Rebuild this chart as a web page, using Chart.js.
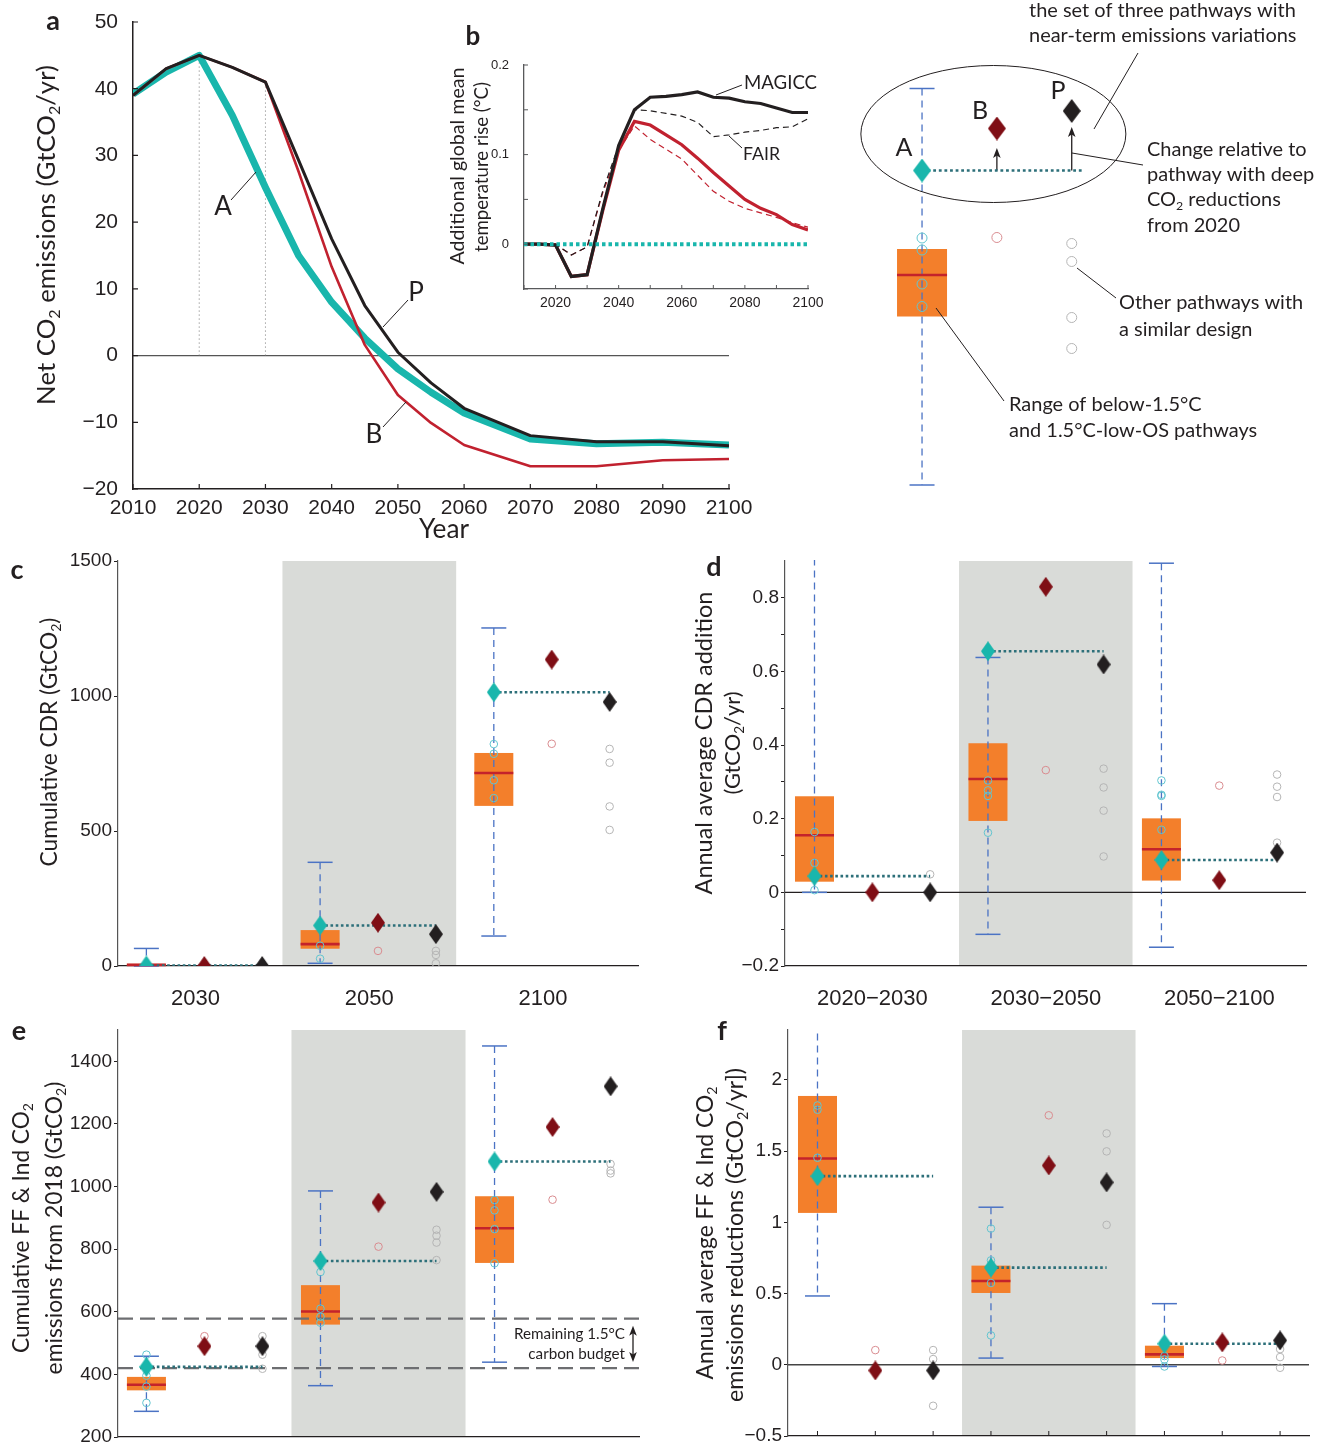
<!DOCTYPE html>
<html><head><meta charset="utf-8"><title>CO2 pathways</title>
<script src="https://cdn.jsdelivr.net/npm/chart.js@4.4.1/dist/chart.umd.min.js"></script>
<style>
html,body{margin:0;padding:0;background:#fff;}
body{width:1331px;height:1445px;position:relative;overflow:hidden;}
canvas{position:absolute;display:block;}
</style></head>
<body>
<canvas id="cvA"></canvas><canvas id="cvB"></canvas><canvas id="cvS"></canvas>
<canvas id="cvC"></canvas><canvas id="cvD"></canvas><canvas id="cvE"></canvas><canvas id="cvF"></canvas>
<script>
// ================= DATA =================
// Panel a: net CO2 emissions (GtCO2/yr)
const yearsA = [2010,2015,2020,2025,2030,2035,2040,2045,2050,2055,2060,2070,2080,2090,2100];
const emissionsA = [39.2,42.5,45.0,36.0,25.2,15.0,8.0,2.6,-2.0,-5.5,-8.6,-12.5,-13.2,-13.0,-13.4];
const emissionsB = [39.0,43.0,45.0,43.2,41.0,27.6,13.3,1.6,-5.9,-10.1,-13.4,-16.6,-16.6,-15.7,-15.5];
const emissionsP = [39.0,43.0,45.0,43.2,41.0,29.3,17.5,7.5,0.5,-4.1,-7.9,-12.0,-12.9,-12.9,-13.5];
const yTicksA = [-20,-10,0,10,20,30,40,50];
const xTicksA = [2010,2020,2030,2040,2050,2060,2070,2080,2090,2100];
const markerYearsA = [2020,2030];

// Panel b: additional warming relative to A (°C)
const yearsB = [2010,2015,2020,2025,2030,2035,2040,2045,2050,2055,2060,2065,2070,2075,2080,2085,2090,2095,2100];
const magiccP = [0,0,-0.001,-0.036,-0.034,0.040,0.110,0.150,0.164,0.165,0.167,0.170,0.164,0.163,0.159,0.157,0.152,0.147,0.147];
const magiccB = [0,0,-0.001,-0.036,-0.034,0.038,0.105,0.137,0.133,0.122,0.111,0.096,0.080,0.065,0.050,0.040,0.033,0.022,0.016];
const fairP   = [0,0,0,-0.012,-0.003,0.060,0.110,0.150,0.149,0.146,0.143,0.136,0.120,0.122,0.125,0.127,0.130,0.131,0.140];
const fairB   = [0,0,0,-0.012,-0.003,0.058,0.105,0.132,0.117,0.106,0.095,0.077,0.059,0.048,0.040,0.035,0.030,0.024,0.019];
const refA_B  = [0,0,0,0,0,0,0,0,0,0,0,0,0,0,0,0,0,0,0];
const yTicksB = [-0.05,0,0.05,0.1,0.15,0.2];
const yLabelsB = ['','0','','0.1','','0.2'];
const xTicksB = [2010,2020,2030,2040,2050,2060,2070,2080,2090,2100];
const xLabelsB = ['','2020','','2040','','2060','','2080','','2100'];

// Schematic (arbitrary units)
const schemLabels = ['A','B','P'];
const schemDiamonds = [65.9,74.3,77.8];
const schemBox = [3.0,36.7,45.0,50.2,82.3];      // lo, q1, median, q3, hi
const schemAcircles = [52.4,50.0,43.2,38.7];
const schemBcircles = [52.5];
const schemPcircles = [51.3,47.7,36.5,30.3];
const schemArrowTips = [70.4,74.6];

// Panel c: cumulative CDR (GtCO2)
const cGroups = ['2030','2050','2100'];
const cBox = [[0,0,4,8,65],[10,64,81,133,384],[111,593,715,789,1252]];
const cA = [2,150,1014], cB = [0,160,1135], cP = [0,118,978];
const cAcirc = [[],[75,27],[822,786,688,622]];
const cBcirc = [[],[56],[823]];
const cPcirc = [[],[56,41,10],[804,753,591,504]];
const cYTicks = [0,500,1000,1500];

// Panel d: annual average CDR addition (GtCO2/yr)
const dGroups = ['2020\u22122030','2030\u22122050','2050\u22122100'];
const dBox = [[0.0,0.029,0.155,0.261,1.2],[-0.114,0.194,0.308,0.405,0.638],[-0.149,0.032,0.117,0.201,0.894]];
const dA = [0.044,0.655,0.088], dB = [0.0,0.83,0.033], dP = [0.0,0.619,0.108];
const dAcirc = [[0.164,0.08,0.006],[0.304,0.277,0.262,0.162],[0.304,0.265,0.262,0.17]];
const dBcirc = [[],[0.332],[0.29]];
const dPcirc = [[0.049],[0.336,0.285,0.222,0.0975],[0.32,0.287,0.259,0.135]];
const dYTicks = [-0.2,-0.1,0,0.1,0.2,0.3,0.4,0.5,0.6,0.7,0.8];

// Panel e: cumulative FF&Ind CO2 from 2018 (GtCO2)
const eBox = [[282,349,367,392,458],[364,559,601,685,986],[439,756,867,969,1449]];
const eA = [424,762,1080], eB = [490,949,1190], eP = [490,983,1320];
const eAcirc = [[463,396,361,309],[727,610,584,565],[957,924,864,755]];
const eBcirc = [[522],[808],[958]];
const ePcirc = [[522,463,418],[862,843,821,765],[1072,1051,1042]];
const eBudget = [420,578];
const eYTicks = [200,400,600,800,1000,1200,1400];

// Panel f: annual average FF&Ind CO2 reductions (GtCO2/yr)
const fBox = [[0.483,1.066,1.448,1.887,3.0],[0.047,0.504,0.588,0.696,1.106],[-0.012,0.047,0.073,0.134,0.429]];
const fA = [1.324,0.682,0.148], fB = [-0.04,1.399,0.157], fP = [-0.04,1.28,0.171];
const fAcirc = [[1.82,1.79,1.453],[0.956,0.733,0.574,0.206],[0.061,0.0375,-0.012]];
const fBcirc = [[0.103],[1.751],[0.03]];
const fPcirc = [[0.103,0.04,-0.288],[1.624,1.498,0.982],[0.11,0.054,-0.021]];
const fYTicks = [-0.5,0,0.5,1,1.5,2];
const slotTicks = [0,1,2,3,4,5,6,7,8];

// ================= STYLE =================
const TEAL='#19b6ac', TEAL_DOT='#2c6f79', TEAL_C='#62c5d0', RED='#c1212f', DRED='#7f0e15',
      BLK='#231f20', ORANGE='#f37f2b', MED='#c4232b', WHISK='#4b73c4', BAND='#d9dbd8',
      PINK='#d98c90', GREYC='#b5b5b5', GREYLINE='#6d6e71';
const FONT_T = 'Lato, "Open Sans", "DejaVu Sans", sans-serif';
const FONT_N = '"Liberation Sans", Arial, sans-serif';
Chart.defaults.font.family = FONT_N;
Chart.defaults.color = BLK;

function minus(v){ return String(v).replace('-', '\u2212'); }
function pts(xs, ys){ return xs.map((x,i)=>({x:x, y:ys[i]})); }
function diamondImg(color, w, h){
  const c=document.createElement('canvas'); c.width=w; c.height=h;
  const g=c.getContext('2d'); g.fillStyle=color; g.beginPath();
  g.moveTo(w/2,0); g.lineTo(w,h/2); g.lineTo(w/2,h); g.lineTo(0,h/2); g.closePath(); g.fill();
  return c;
}
const DIA_A=diamondImg(TEAL,14,20), DIA_B=diamondImg(DRED,14,20), DIA_P=diamondImg(BLK,14,20);
const SDIA_A=diamondImg(TEAL,18,24), SDIA_B=diamondImg(DRED,18,24), SDIA_P=diamondImg(BLK,18,24);

// rich text with {subscript}
function parseRich(s){ const out=[]; const re=/\{([^}]*)\}/g; let last=0,m;
  while((m=re.exec(s))){ if(m.index>last) out.push([s.slice(last,m.index),0]); out.push([m[1],1]); last=re.lastIndex; }
  if(last<s.length) out.push([s.slice(last),0]); return out; }
function richW(ctx, parts, size, fam, weight){ let w=0; for(const [t,sub] of parts){ ctx.font=`${weight||''} ${sub?size*0.62:size}px ${fam}`; w+=ctx.measureText(t).width; } return w; }
function drawRich(ctx, s, cx, cy, o){
  o=o||{}; const fam=o.fam||FONT_T; const weight=o.weight||''; const parts=parseRich(s);
  let size=o.size||20;
  if(o.fit){ size = 100*o.fit/richW(ctx,parts,100,fam,weight); }
  const w=richW(ctx,parts,size,fam,weight);
  ctx.save(); ctx.translate(cx,cy); ctx.rotate(o.rot||0); ctx.fillStyle=o.color||BLK; ctx.textBaseline='middle'; ctx.textAlign='left';
  let x = (o.align==='left')?0:(o.align==='right')?-w:-w/2;
  for(const [t,sub] of parts){ const sz=sub?size*0.62:size; ctx.font=`${weight} ${sz}px ${fam}`; ctx.fillText(t,x,sub?size*0.3:0); x+=ctx.measureText(t).width; }
  ctx.restore(); return size;
}
function line(ctx, x1,y1,x2,y2, col, lw, dash){ ctx.save(); ctx.strokeStyle=col; ctx.lineWidth=lw; ctx.setLineDash(dash||[]); ctx.beginPath(); ctx.moveTo(x1,y1); ctx.lineTo(x2,y2); ctx.stroke(); ctx.restore(); }
function arrowHead(ctx, x, y, dir, col){ // dir: -1 up, +1 down
  ctx.save(); ctx.fillStyle=col; ctx.beginPath(); ctx.moveTo(x,y); ctx.lineTo(x-3.8,y-dir*10); ctx.lineTo(x,y-dir*7.5); ctx.lineTo(x+3.8,y-dir*10); ctx.closePath(); ctx.fill(); ctx.restore(); }
function pageCtx(chart){ const ctx=chart.ctx; ctx.save(); ctx.translate(-parseFloat(chart.canvas.style.left), -parseFloat(chart.canvas.style.top)); return ctx; }

function mk(id, area, pad, config){
  const cv=document.getElementById(id);
  const x=area.L-pad.l, y=area.T-pad.t, w=area.R-area.L+pad.l+pad.r, h=area.B-area.T+pad.t+pad.b;
  cv.width=w; cv.height=h; cv.style.left=x+'px'; cv.style.top=y+'px'; cv.style.width=w+'px'; cv.style.height=h+'px';
  const o=config.options;
  o.responsive=false; o.animation=false; o.devicePixelRatio=1; o.events=[];
  o.layout={autoPadding:false, padding:{top:pad.t,right:pad.r,left:0,bottom:0}};
  o.plugins=Object.assign({legend:{display:false},tooltip:{enabled:false}}, o.plugins||{});
  o.scales.x.afterFit=s=>{ s.height=pad.b; s.paddingLeft=0; s.paddingRight=0; };
  o.scales.y.afterFit=s=>{ s.width=pad.l; s.paddingTop=0; s.paddingBottom=0; };
  return new Chart(cv, config);
}
function setTicks(arr){ return s=>{ s.ticks=arr.map(v=>({value:v})); }; }

// ================= PANEL A =================
mk('cvA', {L:133,T:22,R:729,B:489}, {l:133,t:22,r:32,b:60}, {
  type:'line',
  data:{datasets:[
    {data:pts(yearsA,emissionsP), borderColor:BLK, borderWidth:3, order:1},
    {data:pts(yearsA,emissionsB), borderColor:RED, borderWidth:2.6, order:2},
    {data:pts(yearsA,emissionsA), borderColor:TEAL, borderWidth:7, order:3}
  ]},
  options:{
    elements:{point:{radius:0}, line:{tension:0, borderJoinStyle:'round'}},
    scales:{
      x:{type:'linear', min:2010, max:2100, afterBuildTicks:setTicks(xTicksA),
         ticks:{callback:v=>String(v), font:{size:21}, padding:-1, maxRotation:0, autoSkip:false, color:BLK},
         grid:{display:false}, border:{display:true,color:BLK,width:1.5}},
      y:{min:-20, max:50, afterBuildTicks:setTicks(yTicksA),
         ticks:{callback:v=>minus(v), font:{size:21}, padding:7, color:BLK},
         grid:{display:false}, border:{display:true,color:BLK,width:1.5}}
    }
  },
  plugins:[{id:'decoA',
    beforeDatasetsDraw(chart){
      const {ctx,chartArea:ca,scales:{x,y}}=chart; const y0=y.getPixelForValue(0);
      line(ctx, ca.left, y0, ca.right, y0, '#555', 1.3);
      markerYearsA.forEach(yr=>{ const i=yearsA.indexOf(yr); const px=x.getPixelForValue(yr);
        line(ctx, px, y0, px, y.getPixelForValue(emissionsP[i]), '#777', 1, [1,3]); });
    },
    afterDraw(chart){
      const {chartArea:ca,scales:{x,y}}=chart; const ctx=chart.ctx;
      ctx.save(); ctx.strokeStyle=BLK; ctx.lineWidth=1.2; ctx.beginPath();
      yTicksA.forEach(v=>{const p=y.getPixelForValue(v); ctx.moveTo(ca.left,p); ctx.lineTo(ca.left+5,p);});
      xTicksA.forEach(v=>{const p=x.getPixelForValue(v); ctx.moveTo(p,ca.bottom); ctx.lineTo(p,ca.bottom-5);});
      ctx.stroke(); ctx.restore();
      const c=pageCtx(chart);
      drawRich(c,'a',53,21,{size:27,weight:'bold'});
      drawRich(c,'Net CO{2} emissions (GtCO{2}/yr)',47,235,{fit:340,rot:-Math.PI/2});
      drawRich(c,'Year',444,530,{fit:50});
      drawRich(c,'A',223,207,{size:26}); line(c,231,200,256,172,BLK,1);
      drawRich(c,'P',416,293,{size:26}); line(c,383,327,408,300,BLK,1);
      drawRich(c,'B',374,435,{size:26}); line(c,383,427,406,402,BLK,1);
      c.restore();
    }
  }]
});

// ================= PANEL B =================
mk('cvB', {L:524,T:65,R:808,B:289}, {l:84,t:40,r:24,b:26}, {
  type:'line',
  data:{datasets:[
    {data:pts(yearsB,refA_B), borderColor:TEAL, borderWidth:4, borderDash:[3.5,3], order:1},
    {data:pts(yearsB,magiccP), borderColor:BLK, borderWidth:3.2, order:2},
    {data:pts(yearsB,magiccB), borderColor:RED, borderWidth:3.2, order:3},
    {data:pts(yearsB,fairP), borderColor:BLK, borderWidth:1.2, borderDash:[6,4], order:4},
    {data:pts(yearsB,fairB), borderColor:RED, borderWidth:1.2, borderDash:[6,4], order:5}
  ]},
  options:{
    elements:{point:{radius:0}, line:{tension:0}},
    scales:{
      x:{type:'linear', min:2010, max:2100, afterBuildTicks:setTicks(xTicksB),
         ticks:{callback:(v,i)=>xLabelsB[i], font:{size:14}, padding:-2, maxRotation:0, autoSkip:false, color:BLK},
         grid:{display:false}, border:{display:true,color:'#58595b',width:1.3}},
      y:{min:-0.05, max:0.2, afterBuildTicks:setTicks(yTicksB),
         ticks:{callback:(v,i)=>yLabelsB[i], font:{size:13}, padding:7, color:BLK},
         grid:{display:false}, border:{display:true,color:'#58595b',width:1.3}}
    }
  },
  plugins:[{id:'decoB',
    afterDraw(chart){
      const {chartArea:ca,scales:{x,y}}=chart; const ctx=chart.ctx;
      ctx.save(); ctx.strokeStyle='#58595b'; ctx.lineWidth=1; ctx.beginPath();
      yTicksB.forEach(v=>{const p=y.getPixelForValue(v); ctx.moveTo(ca.left,p); ctx.lineTo(ca.left+4,p);});
      xTicksB.forEach(v=>{const p=x.getPixelForValue(v); ctx.moveTo(p,ca.bottom); ctx.lineTo(p,ca.bottom-4);});
      ctx.stroke(); ctx.restore();
      const c=pageCtx(chart);
      drawRich(c,'b',473,37,{size:26,weight:'bold'});
      drawRich(c,'Additional global mean',458,166,{fit:197,rot:-Math.PI/2});
      drawRich(c,'temperature rise (\u00B0C)',482,167,{fit:170,rot:-Math.PI/2});
      drawRich(c,'MAGICC',744,83,{fit:73,align:'left'}); line(c,716,95,742,85,BLK,1);
      drawRich(c,'FAIR',743,154,{fit:37,align:'left'}); line(c,729,136,742,148,BLK,1);
      c.restore();
    }
  }]
});

// ================= shared box drawing =================
function drawBoxes(chart, boxes, slots, boxW, capW){
  const {ctx,chartArea:ca,scales:{x,y}}=chart;
  ctx.save(); ctx.beginPath(); ctx.rect(ca.left, ca.top-1, ca.right-ca.left, ca.bottom-ca.top+2); ctx.clip();
  boxes.forEach((b,g)=>{
    const sx=x.getPixelForValue(slots[g]); const [lo,q1,med,q3,hi]=b; const h=boxW/2;
    const p1=y.getPixelForValue(q1), p3=y.getPixelForValue(q3);
    ctx.fillStyle=ORANGE; ctx.fillRect(sx-h, p3, boxW, Math.max(p1-p3,2));
    line(ctx, sx, y.getPixelForValue(hi), sx, y.getPixelForValue(lo), WHISK, 1.3, [7,5]);
    [lo,hi].forEach(v=>{ const p=y.getPixelForValue(v); if(p>=ca.top-0.5 && p<=ca.bottom+0.5) line(ctx, sx-capW/2, p, sx+capW/2, p, WHISK, 1.5); });
    const pm=y.getPixelForValue(med); line(ctx, sx-h, pm, sx+h, pm, MED, 2.6);
  });
  ctx.restore();
}
function circleSet(vals, xs, col, r){ return {data: vals.map((v,i)=>({x:xs[i],y:v})), pointStyle:'circle', pointRadius:r, pointBorderWidth:1, pointBorderColor:col, pointBackgroundColor:'rgba(0,0,0,0)', order:5}; }
function groupSets(A,B,P,Ac,Bc,Pc){
  const ds=[];
  const circ=(arrs,off,col)=>{ const xs=[],vs=[]; arrs.forEach((a,g)=>a.forEach(v=>{xs.push(3*g+off); vs.push(v);})); return circleSet(vs,xs,col,3.8); };
  ds.push(circ(Ac,0,TEAL_C), circ(Bc,1,PINK), circ(Pc,2,GREYC));
  A.forEach((v,g)=>ds.push({data:[{x:3*g,y:v},{x:3*g+2,y:v}], showLine:true, borderColor:TEAL_DOT, borderWidth:2.6, borderDash:[2.6,2.6], pointRadius:0, order:4}));
  const dia=(vals,off,img)=>({data:vals.map((v,g)=>({x:3*g+off,y:v})), pointStyle:img, pointRadius:8, order:1});
  ds.push(dia(P,2,DIA_P), dia(B,1,DIA_B), dia(A,0,DIA_A));
  return ds;
}
const boxSlots=[0,3,6];

// ================= SCHEMATIC =================
mk('cvS', {L:840,T:0,R:1331,B:500}, {l:0,t:0,r:0,b:0}, {
  type:'scatter',
  data:{datasets:[
    circleSet(schemAcircles, schemAcircles.map(()=>0), TEAL_C, 5),
    circleSet(schemBcircles, schemBcircles.map(()=>1), PINK, 5),
    circleSet(schemPcircles, schemPcircles.map(()=>2), GREYC, 5),
    {data:[{x:0,y:schemDiamonds[0]},{x:2.165,y:schemDiamonds[0]}], showLine:true, borderColor:TEAL_DOT, borderWidth:2.4, borderDash:[2.8,2.8], pointRadius:0, order:4},
    {data:[{x:2,y:schemDiamonds[2]}], pointStyle:SDIA_P, pointRadius:9, order:1},
    {data:[{x:1,y:schemDiamonds[1]}], pointStyle:SDIA_B, pointRadius:9, order:1},
    {data:[{x:0,y:schemDiamonds[0]}], pointStyle:SDIA_A, pointRadius:9, order:1}
  ]},
  options:{scales:{x:{display:false,min:-1.096,max:5.464}, y:{display:false,min:0,max:100}}},
  plugins:[{id:'decoS',
    beforeDatasetsDraw(chart){
      const {ctx,scales:{x,y}}=chart;
      drawBoxes(chart,[schemBox],[0],50,25);
      ctx.save(); ctx.strokeStyle=BLK; ctx.lineWidth=1; ctx.beginPath();
      ctx.ellipse(x.getPixelForValue(0.953), y.getPixelForValue(73.2), 132.5, 68.5, 0, 0, Math.PI*2); ctx.stroke(); ctx.restore();
      [1,2].forEach((s,i)=>{ const px=x.getPixelForValue(s), py0=y.getPixelForValue(schemDiamonds[0]), py1=y.getPixelForValue(schemArrowTips[i]);
        line(ctx,px,py0,px,py1+4,BLK,1.3); arrowHead(ctx,px,py1,-1,BLK); });
    },
    afterDraw(chart){
      const c=pageCtx(chart);
      drawRich(c,schemLabels[0],904,148,{size:25}); drawRich(c,schemLabels[1],980,111,{size:25}); drawRich(c,schemLabels[2],1058,91,{size:25});
      const fs = drawRich(c,'the set of three pathways with',1029,11,{fit:267,align:'left'});
      drawRich(c,'near-term emissions variations',1029,36,{size:fs,align:'left'});
      line(c,1138,53,1094,129,BLK,1);
      drawRich(c,'Change relative to',1147,150,{size:fs,align:'left'});
      drawRich(c,'pathway with deep',1147,175,{size:fs,align:'left'});
      drawRich(c,'CO{2} reductions',1147,200,{size:fs,align:'left'});
      drawRich(c,'from 2020',1147,226,{size:fs,align:'left'});
      line(c,1143,165,1072,153,BLK,1);
      drawRich(c,'Other pathways with',1119,303,{size:fs,align:'left'});
      drawRich(c,'a similar design',1119,330,{size:fs,align:'left'});
      line(c,1116,298,1077,268,BLK,1);
      drawRich(c,'Range of below-1.5\u00B0C',1009,405,{size:fs,align:'left'});
      drawRich(c,'and 1.5\u00B0C-low-OS pathways',1009,431,{size:fs,align:'left'});
      line(c,1004,401,936,308,BLK,1);
      c.restore();
    }
  }]
});

// ================= GROUP PANELS =================
function groupPanel(id, area, pad, yMin, yMax, yTicks, yLabel, xMin, xMax, xTickPos, xLabels, sets, band, extra){
  return mk(id, area, pad, {
    type:'scatter',
    data:{datasets:sets},
    options:{
      scales:{
        x:{type:'linear', min:xMin, max:xMax, afterBuildTicks:setTicks(xTickPos),
           ticks:{display:xLabels.length>0, callback:(v,i)=>xLabels[i], font:{size:22}, padding:12, maxRotation:0, autoSkip:false, color:BLK},
           grid:{display:false}, border:{display:true,color:BLK,width:1.3}},
        y:{min:yMin, max:yMax, afterBuildTicks:setTicks(yTicks),
           ticks:{callback:(v,i)=>yLabel(v,i), font:{size:19}, padding:2, color:BLK},
           grid:{display:true, drawOnChartArea:false, drawTicks:true, tickLength:4, tickColor:BLK, lineWidth:1},
           border:{display:true,color:'#555',width:1.2}}
      }
    },
    plugins:[{id:'deco'+id,
      beforeDraw(chart){
        const {ctx,chartArea:ca,scales:{x}}=chart;
        ctx.save(); ctx.fillStyle=BAND; const a=x.getPixelForValue(band[0]), b=x.getPixelForValue(band[1]);
        ctx.fillRect(a, ca.top, b-a, ca.bottom-ca.top); ctx.restore();
      },
      beforeDatasetsDraw(chart){ extra.under && extra.under(chart); },
      afterDraw(chart){ extra.over && extra.over(chart); }
    }]
  });
}
const fmtNum = v => v===0 ? '0' : minus(v);

// Panel c
groupPanel('cvC', {L:118,T:561,R:638,B:966}, {l:118,t:11,r:15,b:50}, 0, 1500, cYTicks, v=>String(v),
  -0.49, 8.49, [0.85,3.85,6.85], cGroups, groupSets(cA,cB,cP,cAcirc,cBcirc,cPcirc), [2.35,5.35], {
  under(chart){ drawBoxes(chart,cBox,boxSlots,39,25); },
  over(chart){ const c=pageCtx(chart);
    drawRich(c,'c',17,570,{size:27,weight:'bold'});
    drawRich(c,'Cumulative CDR (GtCO{2})',50,742,{fit:249,rot:-Math.PI/2});
    c.restore(); }
});

// Panel d
groupPanel('cvD', {L:785,T:561,R:1306,B:966}, {l:125,t:11,r:20,b:50}, -0.2, 0.9, dYTicks,
  v=>{ const r=Math.round(v*10); return (r%2===0) ? (r===0?'0':minus((r/10).toFixed(1))) : ''; },
  -0.51, 8.5, [1,4,7], dGroups, groupSets(dA,dB,dP,dAcirc,dBcirc,dPcirc), [2.5,5.5], {
  under(chart){ const {chartArea:ca,scales:{y}}=chart; const p=y.getPixelForValue(0);
    line(chart.ctx, ca.left, p, ca.right, p, BLK, 1.3);
    drawBoxes(chart,dBox,boxSlots,39,25); },
  over(chart){ const c=pageCtx(chart);
    drawRich(c,'d',714,567,{size:27,weight:'bold'});
    drawRich(c,'Annual average CDR addition',704,743,{fit:303,rot:-Math.PI/2});
    drawRich(c,'(GtCO{2}/yr)',733,743,{fit:103,rot:-Math.PI/2});
    c.restore(); }
});

// Panel e
groupPanel('cvE', {L:118,T:1030,R:639,B:1437}, {l:118,t:14,r:22,b:8}, 200, 1500, eYTicks, v=>String(v),
  -0.49, 8.49, [], [], groupSets(eA,eB,eP,eAcirc,eBcirc,ePcirc), [2.5,5.5], {
  under(chart){ drawBoxes(chart,eBox,boxSlots,39,25);
    const {chartArea:ca,scales:{y}}=chart;
    eBudget.forEach(v=>{ const p=y.getPixelForValue(v); line(chart.ctx, ca.left, p, ca.right, p, GREYLINE, 2.4, [15,7]); }); },
  over(chart){ const {ctx,chartArea:ca,scales:{y}}=chart;
    // double arrow spanning the remaining budget (canvas coordinates)
    const ax=ca.right-6, yTop=y.getPixelForValue(eBudget[1])+7, yBot=y.getPixelForValue(eBudget[0])-6;
    line(ctx,ax,yTop+6,ax,yBot-6,BLK,1.3); arrowHead(ctx,ax,yTop,-1,BLK); arrowHead(ctx,ax,yBot,1,BLK);
    const c=pageCtx(chart);
    drawRich(c,'e',19,1031,{size:27,weight:'bold'});
    drawRich(c,'Cumulative FF & Ind CO{2}',22,1228,{fit:250,rot:-Math.PI/2});
    drawRich(c,'emissions from 2018 (GtCO{2})',55,1228,{fit:293,rot:-Math.PI/2});
    const fs=drawRich(c,'Remaining 1.5\u00B0C',625,1334,{fit:111,align:'right'});
    drawRich(c,'carbon budget',625,1354,{size:fs,align:'right'});
    c.restore(); }
});

// Panel f
groupPanel('cvF', {L:788,T:1030,R:1309,B:1436}, {l:128,t:14,r:17,b:9}, -0.5, 2.35, fYTicks, v=>fmtNum(v),
  -0.51, 8.5, [], [], groupSets(fA,fB,fP,fAcirc,fBcirc,fPcirc), [2.5,5.5], {
  under(chart){ const {chartArea:ca,scales:{y}}=chart; const p=y.getPixelForValue(0);
    line(chart.ctx, ca.left, p, ca.right, p, '#444', 1.3);
    drawBoxes(chart,fBox,boxSlots,39,25); },
  over(chart){ const {ctx,chartArea:ca,scales:{x}}=chart;
    ctx.save(); ctx.strokeStyle=BLK; ctx.lineWidth=1; ctx.beginPath();
    slotTicks.forEach(s=>{ const p=x.getPixelForValue(s); ctx.moveTo(p,ca.bottom); ctx.lineTo(p,ca.bottom-5); });
    ctx.stroke(); ctx.restore();
    const c=pageCtx(chart);
    drawRich(c,'f',722,1031,{size:27,weight:'bold'});
    drawRich(c,'Annual average FF & Ind CO{2}',706,1233,{fit:293,rot:-Math.PI/2});
    drawRich(c,'emissions reductions (GtCO{2}/yr])',736,1235,{fit:334,rot:-Math.PI/2});
    c.restore(); }
});
</script>
</body></html>
